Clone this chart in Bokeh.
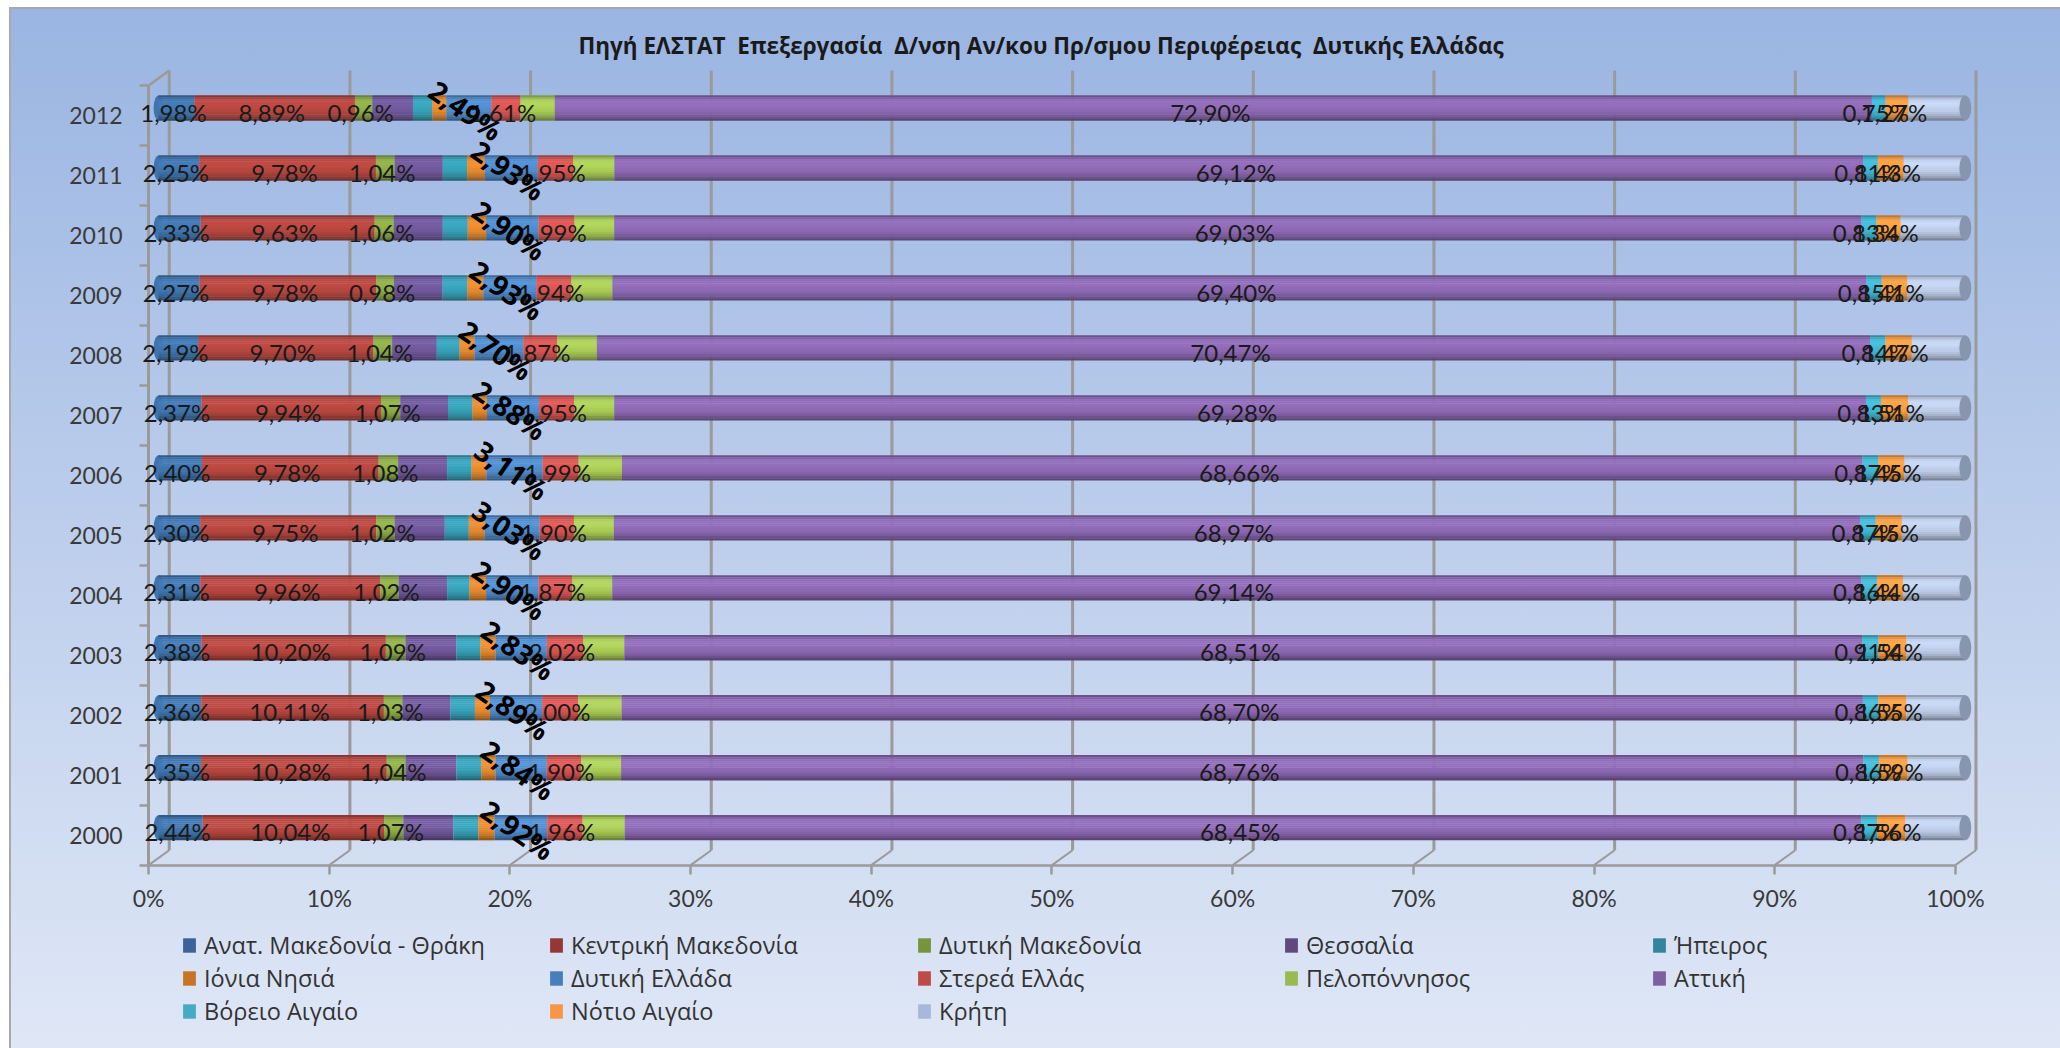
from bokeh.plotting import figure
from bokeh.models import (ColumnDataSource, FixedTicker, Legend, LegendItem, LabelSet,
                          PrintfTickFormatter, Range1d, Title)
from bokeh.core.properties import value
from bokeh.embed import file_html
from bokeh.resources import INLINE

years = [2000, 2001, 2002, 2003, 2004, 2005, 2006, 2007, 2008, 2009, 2010, 2011, 2012]
title_text = "Πηγή ΕΛΣΤΑΤ\u00a0 Επεξεργασία\u00a0 Δ/νση Αν/κου Πρ/σμου Περιφέρειας\u00a0 Δυτικής Ελλάδας"
x_ticks = [0, 10, 20, 30, 40, 50, 60, 70, 80, 90, 100]

names = ["Ανατ. Μακεδονία - Θράκη", "Κεντρική Μακεδονία", "Δυτική Μακεδονία", "Θεσσαλία", "Ήπειρος",
         "Ιόνια Νησιά", "Δυτική Ελλάδα", "Στερεά Ελλάς", "Πελοπόννησος", "Αττική",
         "Βόρειο Αιγαίο", "Νότιο Αιγαίο", "Κρήτη"]

anat_makedonia = [2.44, 2.35, 2.36, 2.38, 2.31, 2.30, 2.40, 2.37, 2.19, 2.27, 2.33, 2.25, 1.98]
kentriki_makedonia = [10.04, 10.28, 10.11, 10.20, 9.96, 9.75, 9.78, 9.94, 9.70, 9.78, 9.63, 9.78, 8.89]
dytiki_makedonia = [1.07, 1.04, 1.03, 1.09, 1.02, 1.02, 1.08, 1.07, 1.04, 0.98, 1.06, 1.04, 0.96]
thessalia = [2.77, 2.81, 2.66, 2.81, 2.68, 2.77, 2.71, 2.64, 2.47, 2.69, 2.71, 2.66, 2.25]
ipeiros = [1.38, 1.38, 1.35, 1.33, 1.24, 1.33, 1.35, 1.35, 1.26, 1.37, 1.38, 1.35, 1.07]
ionia = [0.89, 0.79, 0.83, 0.85, 0.92, 0.89, 0.83, 0.81, 0.83, 0.89, 1.02, 0.98, 0.78]
dytiki_ellada = [2.92, 2.84, 2.89, 2.83, 2.90, 3.03, 3.11, 2.88, 2.70, 2.93, 2.90, 2.93, 2.49]
sterea = [1.96, 1.90, 2.00, 2.02, 1.87, 1.90, 1.99, 1.95, 1.87, 1.94, 1.99, 1.95, 1.61]
peloponnisos = [2.33, 2.21, 2.40, 2.27, 2.21, 2.21, 2.40, 2.21, 2.20, 2.27, 2.20, 2.29, 1.90]
attiki = [68.45, 68.76, 68.70, 68.51, 69.14, 68.97, 68.66, 69.28, 70.47, 69.40, 69.03, 69.12, 72.90]
voreio_aigaio = [0.87, 0.86, 0.86, 0.91, 0.86, 0.87, 0.87, 0.83, 0.84, 0.85, 0.83, 0.81, 0.75]
notio_aigaio = [1.56, 1.59, 1.55, 1.54, 1.44, 1.45, 1.45, 1.51, 1.47, 1.41, 1.34, 1.43, 1.27]
kriti = [3.32, 3.19, 3.26, 3.26, 3.45, 3.51, 3.37, 3.16, 2.96, 3.22, 3.58, 3.41, 3.15]

series = [anat_makedonia, kentriki_makedonia, dytiki_makedonia, thessalia, ipeiros, ionia, dytiki_ellada,
          sterea, peloponnisos, attiki, voreio_aigaio, notio_aigaio, kriti]

bar_colors = ["#3f74ad", "#b5463f", "#8cab45", "#705799", "#369fb6", "#e3882e", "#4f8aca", "#d65450",
              "#a8c955", "#8c68b2", "#40b5d0", "#f99b3e", "#bccbe6"]
legend_colors = ["#3a6497", "#953735", "#77933c", "#604a7b", "#31859c", "#c77328", "#4a7ebb", "#be4b48",
                 "#98b954", "#7d60a0", "#46aac5", "#f79646", "#a7b8d8"]
plain_labelled = [0, 1, 2, 7, 9, 10, 11]
rotated_labelled = [6]
FONT = "Lato"
GREEK_FONT = "Open Sans"

# geometry helpers, in axis units
BAR_DX = 0.55
BAR_DY = 0.125
BAR_H = 0.418
WALL_DX = 1.14
WALL_DY = 0.25
LABEL_DY = 0.07
STRIP_SHADES = [0.78, 0.94, 1.04, 1.07, 1.07, 1.05, 1.02, 1.0, 0.95, 0.88, 0.78, 0.66]


def shade(hex_color, k):
    rgb = [int(hex_color[i:i + 2], 16) for i in (1, 3, 5)]
    return "#" + "".join(f"{min(255, int(c * k)):02x}" for c in rgb)


def fmt(v):
    return f"{v:.2f}".replace(".", ",") + "%"


p = figure(width=2051, height=1041, output_backend="svg", toolbar_location=None,
           x_range=Range1d(-7.59, 105.93), y_range=Range1d(-3.09, 13.267),
           min_border_left=0, min_border_right=0, min_border_top=60, min_border_bottom=0,
           background_fill_alpha=0, border_fill_alpha=0, outline_line_alpha=0)
p.margin = (7, 0, 0, 9)
p.styles = {
    "background": "linear-gradient(180deg, #9ab5e2 0%, #dfe7f6 100%)",
    "border-left": "2px solid #a9a9a9",
    "border-top": "2px solid #a9a9a9",
}
p.grid.visible = False

# back wall and floor
WALL_COLOR = "#9a9a9a"
p.segment(x0=[t + WALL_DX for t in x_ticks], y0=[WALL_DY] * 11,
          x1=[t + WALL_DX for t in x_ticks], y1=[13 + WALL_DY] * 11,
          line_color=WALL_COLOR, line_width=3)
p.segment(x0=x_ticks, y0=[0] * 11, x1=[t + WALL_DX for t in x_ticks], y1=[WALL_DY] * 11,
          line_color=WALL_COLOR, line_width=2)
p.segment(x0=[0], y0=[13], x1=[WALL_DX], y1=[13 + WALL_DY], line_color=WALL_COLOR, line_width=2.5)

# cylinders
ys = [i + 0.5 + BAR_DY for i in range(len(years))]
p.ellipse(x=[BAR_DX] * len(ys), y=ys, width=10, height=25, width_units="screen", height_units="screen",
          fill_color=bar_colors[0], line_color=None)

n = len(STRIP_SHADES)
strip_h = BAR_H / n
bl, br, by, bc = [], [], [], []
cum = [0.0] * len(years)
mids = []
for s, vals in enumerate(series):
    mids.append([c + v / 2 + BAR_DX for c, v in zip(cum, vals)])
    for i, v in enumerate(vals):
        for j, k in enumerate(STRIP_SHADES):
            bl.append(cum[i] + BAR_DX)
            br.append(cum[i] + v + BAR_DX)
            by.append(ys[i] + BAR_H / 2 - (j + 0.5) * strip_h)
            bc.append(shade(bar_colors[s], k))
        cum[i] += v
p.hbar(y="y", left="l", right="r", height=strip_h * 1.12, fill_color="c", line_color=None,
       source=ColumnDataSource(dict(y=by, l=bl, r=br, c=bc)))
p.ellipse(x=[100 + BAR_DX] * len(ys), y=ys, width=12, height=25, width_units="screen", height_units="screen",
          fill_color="#8796ae", line_color=None)

# axes, pinned to the data origin: the frame reaches to the page edges to hold labels and legend
xa = p.xaxis[0]
xa.fixed_location = 0
xa.ticker = FixedTicker(ticks=x_ticks)
xa.bounds = (0, 100)
xa.formatter = PrintfTickFormatter(format="%d%%")
xa.major_tick_out = 9
xa.major_tick_in = 0
xa.minor_tick_out = 0
xa.minor_tick_in = 0
xa.axis_line_color = WALL_COLOR
xa.axis_line_width = 2.5
xa.major_tick_line_color = WALL_COLOR
xa.major_tick_line_width = 2.5
xa.major_label_text_font = FONT
xa.major_label_text_font_size = "23px"
xa.major_label_text_color = "#3a3a3a"
xa.major_label_standoff = 10

ya = p.yaxis[0]
ya.fixed_location = 0
ya.ticker = FixedTicker(ticks=[i + 0.5 for i in range(13)], minor_ticks=list(range(14)))
ya.major_label_overrides = {i + 0.5: str(y) for i, y in enumerate(years)}
ya.bounds = (0, 13)
ya.major_tick_out = 0
ya.major_tick_in = 0
ya.minor_tick_out = 9
ya.minor_tick_in = 0
ya.minor_tick_line_color = WALL_COLOR
ya.minor_tick_line_width = 2.5
ya.axis_line_color = WALL_COLOR
ya.axis_line_width = 3
ya.major_label_text_font = FONT
ya.major_label_text_font_size = "23px"
ya.major_label_text_color = "#3a3a3a"
ya.major_label_standoff = 17

# labels
lx, ly, lt = [], [], []
for s in plain_labelled:
    for i, v in enumerate(series[s]):
        lx.append(mids[s][i])
        ly.append(ys[i] - LABEL_DY)
        lt.append(fmt(v))
p.add_layout(LabelSet(x="x", y="y", text="t", source=ColumnDataSource(dict(x=lx, y=ly, t=lt)),
                      x_offset=-3, text_align="center", text_baseline="middle", text_font=value(FONT),
                      text_font_size=value("24px"), text_color="#1a1a1a"))
rx, ry, rt = [], [], []
for s in rotated_labelled:
    for i, v in enumerate(series[s]):
        rx.append(mids[s][i])
        ry.append(ys[i] - LABEL_DY / 2)
        rt.append(fmt(v))
p.add_layout(LabelSet(x="x", y="y", text="t", source=ColumnDataSource(dict(x=rx, y=ry, t=rt)),
                      x_offset=-3, text_align="center", text_baseline="middle", text_font=value(GREEK_FONT),
                      text_font_style=value("bold"),
                      text_font_size=value("28px"), text_color="#000000", angle=-35, angle_units="deg"))

# title
p.add_layout(Title(text=title_text, align="left", offset=567, text_font=GREEK_FONT, text_font_style="bold",
                   text_font_size="22.5px", text_color="#1a1a1a", standoff=17), "above")

# legend, one block per column so that columns stay evenly spaced
proxies = [p.hbar(y=[float("nan")], left=[0], right=[0], height=1, fill_color=c, line_color=None)
           for c in legend_colors]
col_x = [170, 537, 905, 1272, 1640]
for c, x in enumerate(col_x):
    idx = [i for i in range(c, 13, 5)]
    leg = Legend(items=[LegendItem(label=names[i], renderers=[proxies[i]]) for i in idx],
                 location=(x, 23 + (3 - len(idx)) * 33), padding=0, margin=0, spacing=1,
                 glyph_width=16, glyph_height=18, label_standoff=7, label_height=28,
                 label_text_font=GREEK_FONT, label_text_font_size="23.5px", label_text_color="#333333",
                 background_fill_alpha=0, border_line_alpha=0)
    p.add_layout(leg)

open("out.html", "w").write(file_html(p, INLINE))
